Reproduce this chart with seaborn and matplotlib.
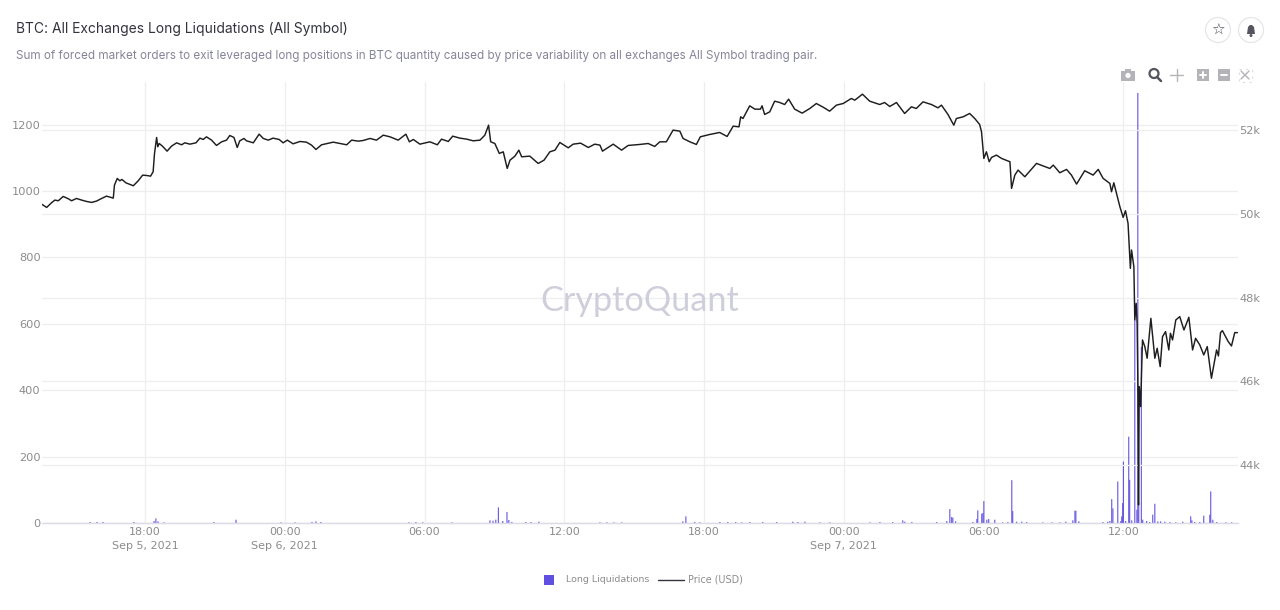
import numpy as np
import pandas as pd
import seaborn as sns
import matplotlib.pyplot as plt
from matplotlib.patches import Circle, Rectangle, Polygon

# --- data ---
# hours counted from Sep 5 2021 00:00
price_hours = [
    13.56, 13.78, 13.99, 14.13, 14.28, 14.49, 14.71, 14.85, 15.06, 15.28, 15.49, 15.71, 15.92, 16.14, 16.35, 16.64,
    16.69, 16.81, 16.92, 17.01, 17.18, 17.50, 17.71, 17.90, 18.07, 18.24, 18.35, 18.41, 18.50, 18.55, 18.61, 18.75,
    18.95, 19.14, 19.36, 19.57, 19.71, 19.93, 20.19, 20.36, 20.50, 20.64, 20.86, 21.07, 21.29, 21.50, 21.64, 21.82,
    21.96, 22.07, 22.25, 22.36, 22.65, 22.90, 23.08, 23.29, 23.50, 23.76, 23.93, 24.11, 24.36, 24.65, 24.93, 25.15,
    25.34, 25.58, 25.94, 26.08, 26.37, 26.66, 26.87, 27.16, 27.37, 27.66, 27.94, 28.23, 28.52, 28.87, 29.20, 29.35,
    29.52, 29.80, 30.23, 30.55, 30.73, 31.02, 31.21, 31.52, 31.81, 32.09, 32.38, 32.59, 32.75, 32.84, 33.02, 33.21,
    33.38, 33.55, 33.67, 33.88, 34.05, 34.17, 34.52, 34.88, 35.13, 35.38, 35.60, 35.81, 36.17, 36.38, 36.70, 37.03,
    37.31, 37.53, 37.64, 38.10, 38.46, 38.74, 39.24, 39.60, 39.88, 40.10, 40.38, 40.67, 40.96, 41.10, 41.39, 41.67,
    41.84, 42.24, 42.67, 42.99, 43.25, 43.50, 43.57, 43.67, 43.96, 44.18, 44.42, 44.49, 44.60, 44.82, 45.03, 45.25,
    45.46, 45.63, 45.89, 46.21, 46.54, 46.82, 47.11, 47.39, 47.68, 47.97, 48.32, 48.47, 48.80, 49.11, 49.54, 49.75,
    49.97, 50.26, 50.61, 50.90, 51.11, 51.40, 51.76, 52.04, 52.19, 52.47, 52.72, 52.83, 53.12, 53.40, 53.62, 53.83,
    53.91, 54.01, 54.12, 54.24, 54.34, 54.55, 54.77, 55.13, 55.20, 55.34, 55.48, 55.77, 56.27, 56.84, 56.99, 57.27,
    57.56, 57.77, 57.99, 58.34, 58.70, 58.92, 59.13, 59.42, 59.49, 59.59, 59.85, 59.99, 60.09, 60.20, 60.30, 60.35,
    60.45, 60.49, 60.55, 60.59, 60.62, 60.64, 60.65, 60.68, 60.74, 60.79, 60.82, 60.92, 61.02, 61.18, 61.35, 61.45,
    61.58, 61.68, 61.81, 61.95, 62.02, 62.11, 62.25, 62.42, 62.60, 62.81, 62.97, 63.10, 63.28, 63.45, 63.60, 63.78,
    64.00, 64.08, 64.17, 64.25, 64.50, 64.64, 64.78, 64.90,
]
price_usd = [
    50233, 50154, 50265, 50329, 50313, 50416, 50360, 50313, 50368, 50329, 50297, 50273, 50305, 50368, 50424, 50376,
    50687, 50846, 50790, 50822, 50742, 50671, 50790, 50925, 50917, 50901, 51005, 51443, 51825, 51602, 51681, 51618,
    51498, 51618, 51697, 51650, 51697, 51665, 51697, 51809, 51777, 51840, 51761, 51634, 51721, 51761, 51872, 51825,
    51586, 51745, 51801, 51745, 51697, 51904, 51801, 51761, 51809, 51777, 51697, 51761, 51673, 51729, 51713, 51642,
    51538, 51650, 51697, 51713, 51681, 51650, 51761, 51737, 51753, 51801, 51761, 51880, 51840, 51761, 51904, 51721,
    51777, 51665, 51721, 51650, 51785, 51729, 51856, 51809, 51785, 51745, 51761, 51880, 52119, 51721, 51681, 51443,
    51482, 51085, 51283, 51379, 51522, 51363, 51379, 51204, 51283, 51482, 51522, 51705, 51578, 51665, 51689, 51586,
    51665, 51642, 51498, 51665, 51522, 51634, 51658, 51681, 51610, 51721, 51721, 52000, 51976, 51801, 51721, 51658,
    51841, 51896, 51944, 51849, 52095, 52079, 52318, 52278, 52581, 52501, 52501, 52581, 52374, 52437, 52692, 52660,
    52612, 52740, 52501, 52406, 52517, 52636, 52549, 52453, 52597, 52636, 52756, 52716, 52859, 52692, 52612, 52660,
    52565, 52660, 52398, 52557, 52517, 52676, 52612, 52533, 52597, 52374, 52119, 52278, 52318, 52398, 52278, 52135,
    51961, 51324, 51483, 51245, 51348, 51404, 51324, 51245, 50608, 50926, 51046, 50886, 51205, 51085, 51165, 50982,
    51062, 50926, 50711, 51030, 50926, 51062, 50847, 50727, 50528, 50743, 50170, 49916, 50075, 49772, 48698, 49136,
    48738, 47465, 47863, 47386, 46033, 44442, 43049, 45874, 45396, 46351, 46988, 46829, 46550, 47505, 46550, 46789,
    46351, 47067, 47187, 46749, 47147, 46988, 47465, 47545, 47226, 47529, 46749, 47027, 46868, 46630, 46829, 46073,
    46749, 46606, 47163, 47211, 46948, 46844, 47163, 47163,
]
liq_hours = [
    15.64, 15.94, 16.20, 17.53, 18.39, 18.47, 18.56, 18.82, 20.96, 21.91, 23.84, 24.44, 25.17, 25.34, 25.55, 29.33,
    29.63, 29.93, 31.18, 32.81, 32.94, 33.06, 33.17, 33.36, 33.54, 33.62, 33.75, 34.35, 34.57, 34.91, 37.53, 37.83,
    38.13, 38.47, 41.09, 41.22, 41.60, 41.82, 42.68, 43.02, 43.36, 43.62, 43.97, 44.52, 45.12, 45.81, 46.03, 46.33,
    46.97, 47.40, 49.12, 49.55, 50.10, 50.53, 50.62, 50.92, 51.99, 52.42, 52.55, 52.63, 52.68, 52.80, 53.54, 53.71,
    53.75, 53.92, 53.97, 54.01, 54.14, 54.22, 54.48, 54.82, 55.04, 55.21, 55.25, 55.42, 55.64, 55.85, 56.54, 56.93,
    57.27, 57.53, 57.83, 57.92, 57.96, 58.09, 59.12, 59.33, 59.42, 59.50, 59.55, 59.76, 59.89, 59.93, 59.97, 60.00,
    60.10, 60.23, 60.27, 60.36, 60.49, 60.58, 60.62, 60.66, 60.77, 60.83, 61.00, 61.13, 61.26, 61.35, 61.48, 61.60,
    61.78, 62.00, 62.25, 62.55, 62.89, 62.94, 63.06, 63.28, 63.45, 63.71, 63.75, 63.84, 64.01, 64.40, 64.65,
]
liq_btc = [
    3, 3, 3, 3, 6, 14, 5, 2, 3, 10, 2, 2, 3, 5, 3, 2,
    3, 2, 2, 8, 7, 10, 47, 6, 33, 9, 3, 3, 3, 4, 2, 2,
    2, 2, 5, 20, 3, 2, 3, 3, 3, 2, 3, 3, 3, 4, 3, 4,
    2, 2, 2, 3, 3, 8, 4, 3, 3, 6, 42, 18, 16, 5, 3, 12,
    38, 28, 30, 66, 10, 12, 10, 2, 3, 129, 36, 4, 4, 3, 2, 2,
    2, 4, 8, 37, 37, 5, 3, 4, 6, 72, 44, 125, 6, 20, 60, 185,
    6, 260, 130, 8, 611, 40, 1295, 60, 530, 10, 6, 3, 25, 58, 5, 5,
    4, 3, 2, 4, 20, 8, 3, 3, 22, 25, 95, 10, 3, 2, 2,
]
xtick_hours = [18, 24, 30, 36, 42, 48, 54, 60]
xtick_labels = ['18:00\nSep 5, 2021', '00:00\nSep 6, 2021', '06:00', '12:00', '18:00',
                '00:00\nSep 7, 2021', '06:00', '12:00']
left_ticks = [0, 200, 400, 600, 800, 1000, 1200]
right_ticks = [44000, 46000, 48000, 50000, 52000]
right_labels = ['44k', '46k', '48k', '50k', '52k']

start = pd.Timestamp('2021-09-05')
price_df = pd.DataFrame({'time': start + pd.to_timedelta(price_hours, unit='h'), 'price': price_usd})
liq_df = pd.DataFrame({'time': start + pd.to_timedelta(liq_hours, unit='h'), 'liq': liq_btc})

sns.set_theme(style='white')
plt.rcParams['font.family'] = ['DejaVu Sans']

GREY = '#8c8c8c'
GRID = '#eeeef0'
PURPLE = '#6050e0'

fig = plt.figure(figsize=(12.8, 6.1), dpi=100)
ax = fig.add_axes([42 / 1280, 1 - 523 / 610, (1238 - 42) / 1280, (523 - 82) / 610])
ax2 = ax.twinx()

# watermark sits under the marks
fig.text(640 / 1280, 1 - 301 / 610, 'CryptoQuant', ha='center', va='center', fontsize=24.7,
         color='#cfcfdb', family='Lato', zorder=0)
ax.patch.set_alpha(0)
ax2.patch.set_alpha(0)

# bars are thinner than a pixel, so they must not snap to the pixel grid
bars = ax.bar(liq_df['time'], liq_df['liq'], width=2.8 / 1440, color=PURPLE, linewidth=0, zorder=3)
for b in bars:
    b.set_snap(False)
sns.lineplot(data=price_df, x='time', y='price', ax=ax2, color='#1e1e1e', linewidth=1.05,
             estimator=None, sort=False, errorbar=None)

tick_times = start + pd.to_timedelta(xtick_hours, unit='h')
ax.set_xlim(start + pd.to_timedelta(13.58, unit='h'), start + pd.to_timedelta(64.92, unit='h'))
ax.set_xticks(tick_times)
ax.set_xticklabels(xtick_labels, fontsize=8.0, color=GREY, linespacing=1.5)
ax.set_ylim(0, 1328)
ax.set_yticks(left_ticks)
ax.tick_params(axis='y', labelsize=8.2, labelcolor=GREY, length=0, pad=1)
ax.tick_params(axis='x', length=0, pad=3)
ax.grid(True, color=GRID, linewidth=0.9)
ax.set_axisbelow(True)
ax.set_xlabel('')

ax2.set_ylim(42615, 53150)
ax2.set_yticks(right_ticks)
ax2.set_yticklabels(right_labels, fontsize=8.2, color=GREY)
ax2.tick_params(axis='y', length=0, pad=1)
ax2.grid(True, axis='y', color=GRID, linewidth=0.9)
ax2.set_axisbelow(True)
ax2.set_xlabel('')
ax2.set_ylabel('')
ax.set_ylabel('')

for a in (ax, ax2):
    for side in ('top', 'right', 'left'):
        a.spines[side].set_visible(False)
    a.spines['bottom'].set_color('#dcdce6')
    a.spines['bottom'].set_linewidth(0.9)

# headings
fig.text(16 / 1280, 1 - 28.5 / 610, 'BTC: All Exchanges Long Liquidations (All Symbol)', fontsize=9.96,
         color='#33333d', family='Inter', va='center')
fig.text(16 / 1280, 1 - 55.5 / 610,
         'Sum of forced market orders to exit leveraged long positions in BTC quantity caused by '
         'price variability on all exchanges All Symbol trading pair.',
         fontsize=8.41, color='#85859a', family='Inter', va='center')

# legend row
deco = fig.add_axes([0, 0, 1, 1], zorder=5)
deco.set_xlim(0, 1280)
deco.set_ylim(610, 0)
deco.axis('off')
deco.patch.set_alpha(0)
deco.add_patch(Rectangle((544, 575), 10, 10, color=PURPLE, lw=0))
deco.plot([658, 684], [580, 580], color='#33333d', lw=1)
deco.text(566, 580, 'Long Liquidations', fontsize=6.8, color=GREY, va='center')
deco.text(688, 580, 'Price (USD)', fontsize=6.9, color=GREY, va='center')

# star and bell buttons
deco.add_patch(Circle((1218, 30), 12.5, fc='white', ec='#e6e6ea', lw=0.9))
deco.add_patch(Circle((1251, 30), 12.5, fc='white', ec='#e6e6ea', lw=0.9))
deco.text(1218, 30.5, '\u2606', fontsize=11, color='#444450', ha='center', va='center')
deco.add_patch(Polygon([(1247, 34), (1248, 27), (1250, 25), (1252, 25), (1254, 27), (1255, 34)],
                       fc='#555560', lw=0))
deco.add_patch(Circle((1251, 35.5), 1.5, fc='#555560', lw=0))

# plot toolbar
TOOL = '#b4b4b8'
deco.add_patch(Rectangle((1121, 71), 14, 9.5, fc=TOOL, lw=0))
deco.add_patch(Rectangle((1125, 69), 6, 3, fc=TOOL, lw=0))
deco.add_patch(Circle((1128, 75.5), 2.6, fc='white', lw=0))
deco.add_patch(Circle((1154, 73.5), 4.5, fc='white', ec='#555560', lw=1.6))
deco.plot([1157, 1161], [77, 81], color='#555560', lw=1.8)
deco.plot([1170, 1183], [75, 75], color=TOOL, lw=1)
deco.plot([1176.5, 1176.5], [69, 81], color=TOOL, lw=1)
for bx, plus in ((1197, True), (1218, False)):
    deco.add_patch(Rectangle((bx, 69), 12, 12, fc=TOOL, lw=0))
    deco.plot([bx + 3, bx + 9], [75, 75], color='white', lw=1.4)
    if plus:
        deco.plot([bx + 6, bx + 6], [72, 78], color='white', lw=1.4)
deco.plot([1241, 1249], [71, 79], color=TOOL, lw=1)
deco.plot([1241, 1249], [79, 71], color=TOOL, lw=1)
deco.add_patch(Rectangle((1238.5, 68.5), 13, 13, fc='none', ec='#dcdce0', lw=0.8, ls=(0, (2, 4))))

plt.savefig('out.png', dpi=100)
